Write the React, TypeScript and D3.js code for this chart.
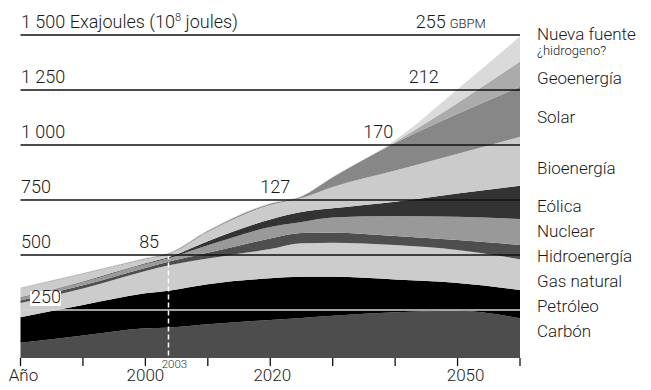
import React from "react";
import * as d3 from "d3";

// ---- data (EJ per year) ----
const years = [1980, 1990, 2000, 2004, 2010, 2020, 2025, 2030, 2040, 2050, 2060];
const carbon = [101, 134, 167, 171, 185, 205, 214, 224, 240, 247, 212];
const petroleo = [116, 139, 159, 168, 182, 189, 187, 177, 149, 126, 129];
const gasNatural = [65, 75, 101, 115, 117, 133, 152, 155, 156, 150, 140];
const hidroenergia = [11, 14, 14, 18, 26, 48, 47, 45, 41, 45, 65];
const nuclear = [13, 15, 18, 16, 34, 52, 50, 70, 91, 106, 118];
const eolica = [2, 3, 3, 5, 19, 34, 45, 41, 65, 105, 151];
const bioenergia = [41, 34, 19, 14, 42, 66, 64, 97, 142, 181, 223];
const solar = [1.5, 2, 3, 3, 4, 6, 7, 44, 125, 182, 227];
const geoenergia = [1, 1, 1, 1.5, 2, 1.5, 1, 1.5, 5, 49, 114];
const nuevaFuente = [1, 1, 1, 1.5, 2, 1.5, 1, 1.5, 8, 62, 114];

const seriesNames = [
  "Carbón", "Petróleo", "Gas natural", "Hidroenergía", "Nuclear",
  "Eólica", "Bioenergía", "Solar", "Geoenergía", "Nueva fuente",
];
const seriesValues = [
  carbon, petroleo, gasNatural, hidroenergia, nuclear,
  eolica, bioenergia, solar, geoenergia, nuevaFuente,
];

const gridValues = [250, 500, 750, 1000, 1250, 1500];
const gridLabels = ["250", "500", "750", "1 000", "1 250", "1 500"];

const gbpmValues = ["85", "127", "170", "212", "255"];
const gbpmYears = [2000.6, 2020.8, 2037.3, 2044.6, 2043.3];
const gbpmRows = [500, 750, 1000, 1250, 1500];

const tickYears = [1980, 1990, 2000, 2010, 2020, 2030, 2040, 2050, 2060];
const tickLabels = ["Año", "2000", "2020", "2050"];
const tickLabelYears = [1980, 2000, 2020, 2050];
const markerYear = 2003.7;
const markerLabel = "2003";

// ---- styles / layout ----
const colors = [
  "#4d4d4d", "#000000", "#cccccc", "#4e4e4e", "#999999",
  "#333333", "#cbcbcb", "#878787", "#ababab", "#dadada",
];
const tickLabelDx = [3, 0, 2, 8];
const legendBaselines = [336.5, 311.5, 286.5, 262, 237, 212, 174, 123, 84, 40];
const FONT = "Roboto, 'Noto Sans', sans-serif";
const FW = 300;
const TXT = "#1a1a1a";

export default function App() {
  const W = 651;
  const H = 390;
  const x = d3.scaleLinear().domain([1980, 2060]).range([20.5, 520]);
  const y = d3.scaleLinear().domain([0, 1500]).range([365, 35]);
  const axisY = 358;

  const rows = years.map((yr, i) => {
    const r: any = { year: yr };
    seriesNames.forEach((n, k) => (r[n] = seriesValues[k][i]));
    return r;
  });
  const stack = d3.stack<any>().keys(seriesNames)(rows);
  const area = d3
    .area<any>()
    .x((d) => x(d.data.year))
    .y0((d) => y(d[0]))
    .y1((d) => y(d[1]))
    .curve(d3.curveMonotoneX);

  const totals = years.map((_, i) => seriesValues.reduce((s, a) => s + a[i], 0));
  const totalAt = d3.scaleLinear().domain(years).range(totals);

  return (
    <svg width={W} height={H} style={{ display: "block", position: "absolute", left: 0, top: 0 }}>
      <defs>
        <clipPath id="plotclip">
          <rect x={0} y={0} width={W} height={axisY} />
        </clipPath>
      </defs>
      <rect width={W} height={H} fill="#fff" />
      <g clipPath="url(#plotclip)">
        {stack.map((s, k) => (
          <path key={seriesNames[k]} d={area(s) || ""} fill={colors[k]} />
        ))}
      </g>

      {/* marker line 2003 */}
      <line
        x1={x(markerYear)}
        x2={x(markerYear)}
        y1={y(totalAt(markerYear)) + 2}
        y2={axisY}
        stroke="#fff"
        strokeWidth={1.5}
        strokeDasharray="5,3"
      />

      {/* grid lines */}
      {gridValues.map((v) => (
        <line
          key={v}
          x1={x(1980)}
          x2={x(2060)}
          y1={y(v)}
          y2={y(v)}
          stroke={v === 250 ? "#d6d6d6" : "#111"}
          strokeWidth={v === 250 ? 1.6 : 1.3}
        />
      ))}
      {gridValues.map((v, i) => {
        if (v === 250) {
          return (
            <g key={v}>
              <rect x={30} y={y(v) - 19} width={31} height={15} fill="#fff" />
              <text x={31} y={y(v) - 7} fontFamily={FONT} fontWeight={FW} fontSize={18} fill={TXT}>
                {gridLabels[i]}
              </text>
            </g>
          );
        }
        return (
          <text key={v} x={21} y={y(v) - 7} fontFamily={FONT} fontWeight={FW} fontSize={18} fill={TXT}>
            {gridLabels[i]}
            {v === 1500 ? (
              <>
                <tspan> Exajoules (10</tspan>
                <tspan fontSize={11} dy={-7}>8</tspan>
                <tspan dy={7}> joules)</tspan>
              </>
            ) : null}
          </text>
        );
      })}

      {/* GBPM labels */}
      {gbpmValues.map((t, i) => (
        <text
          key={t}
          x={x(gbpmYears[i])}
          y={y(gbpmRows[i]) - 7}
          fontFamily={FONT}
          fontWeight={FW}
          fontSize={18}
          fill={TXT}
          textAnchor={i === 4 ? "start" : "middle"}
        >
          {t}
          {i === 4 ? <tspan fontSize={13} dx={4}>GBPM</tspan> : null}
        </text>
      ))}

      {/* x axis ticks */}
      {tickYears.map((t) => (
        <line key={t} x1={x(t)} x2={x(t)} y1={axisY} y2={axisY + 8} stroke="#111" strokeWidth={1.3} />
      ))}
      {tickLabels.map((t, i) => (
        <text
          key={t}
          x={x(tickLabelYears[i]) + tickLabelDx[i]}
          y={381}
          textAnchor="middle"
          fontFamily={FONT}
          fontWeight={FW}
          fontSize={17}
          fill={TXT}
        >
          {t}
        </text>
      ))}
      <text
        x={x(markerYear) + 6}
        y={367.5}
        textAnchor="middle"
        fontFamily={FONT}
        fontWeight={FW}
        fontSize={11.5}
        fill="#333"
      >
        {markerLabel}
      </text>

      {/* legend */}
      {seriesNames.map((n, k) => (
        <text key={n} x={537} y={legendBaselines[k]} fontFamily={FONT} fontWeight={FW} fontSize={17} fill={TXT}>
          {n}
        </text>
      ))}
      <text x={537} y={55} fontFamily={FONT} fontWeight={FW} fontSize={13} fill={TXT}>
        ¿hidrogeno?
      </text>
    </svg>
  );
}
